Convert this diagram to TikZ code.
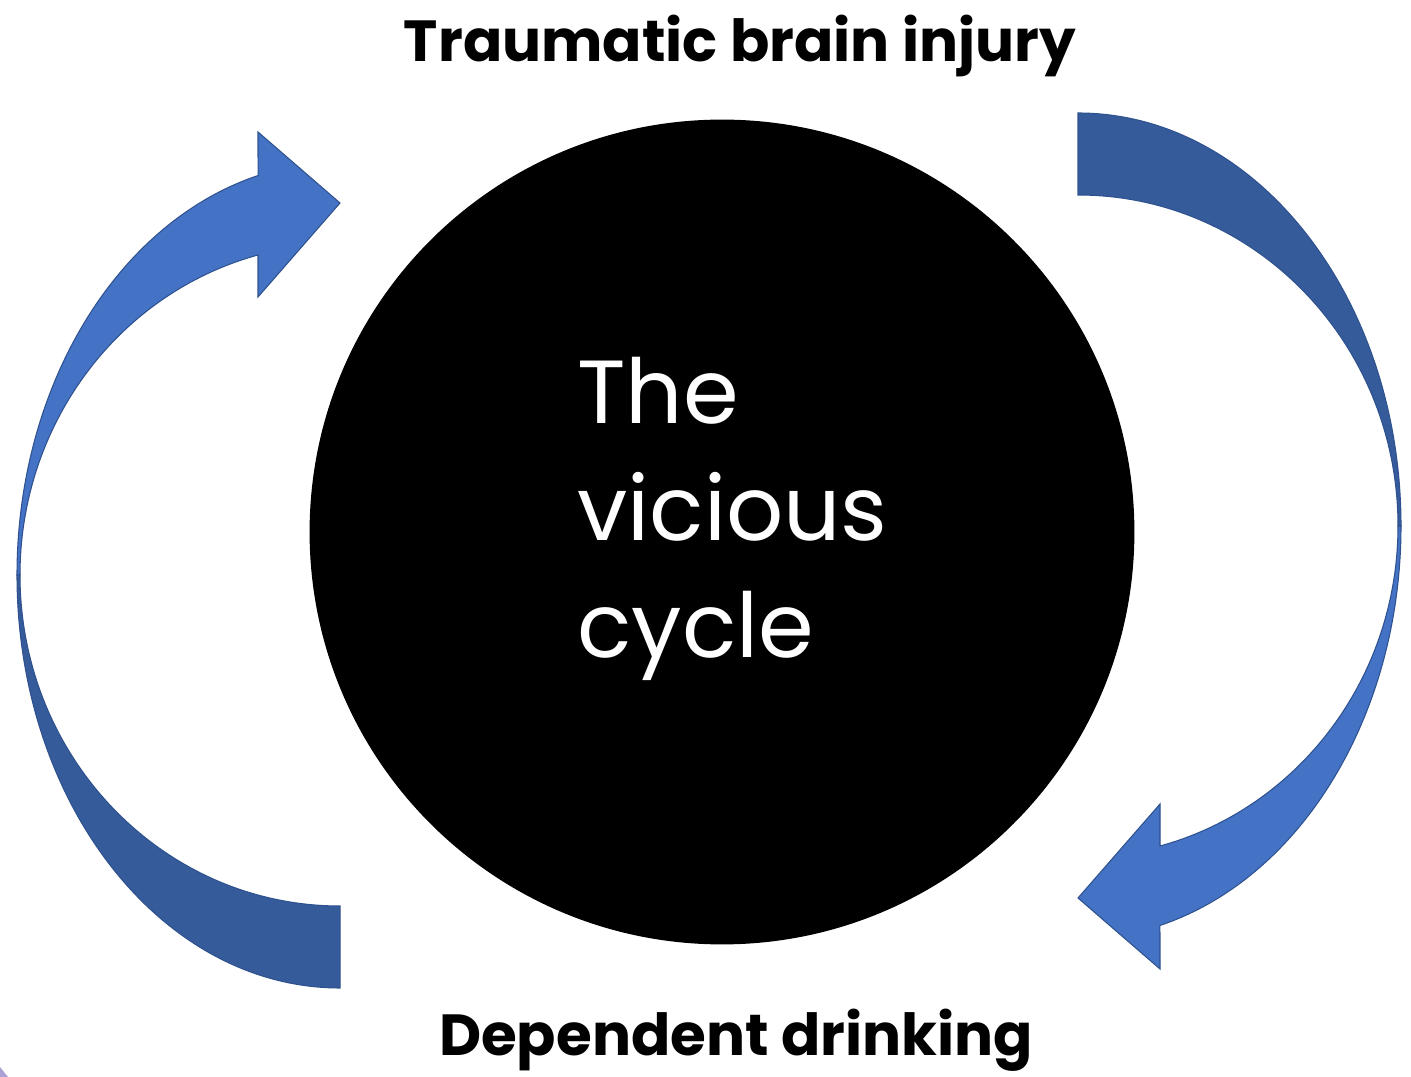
\documentclass[tikz,border=0pt]{standalone}
\usepackage{fontspec}
\setmainfont{Poppins}
\usetikzlibrary{positioning}
\definecolor{frontblue}{RGB}{68,114,196}
\definecolor{backblue}{RGB}{53,91,154}
\definecolor{edgeblue}{RGB}{47,82,143}
\definecolor{cornerlilac}{RGB}{172,160,212}
\tikzstyle{front}=[fill=frontblue,draw=edgeblue,line width=0.6pt]
\tikzstyle{back}=[fill=backblue,draw=edgeblue,line width=0.6pt]
\tikzstyle{hub}=[circle,fill=black,minimum size=16.5cm,inner sep=0pt]
\tikzstyle{hubtxt}=[align=left,text=white,inner sep=0pt,font=\fontsize{51}{66.6}\selectfont]
\tikzstyle{headline}=[inner sep=0pt,font=\bfseries\fontsize{33}{40}\selectfont]

\begin{document}
\begin{tikzpicture}[x=0.02cm,y=-0.02cm]
\useasboundingbox (0,0) rectangle (1411,1077);
% curved arrows, the right one is the left one turned round
\foreach \turn in {0,180} {
\begin{scope}[rotate around={\turn:(709,550.5)}]
\path[back] (340,988) arc[start angle=90,end angle=180,x radius=323,y radius=413]
  -- (20,575) arc[start angle=180,end angle=90,x radius=320,y radius=331] -- cycle;
\path[front] (17,575) arc[start angle=180,end angle=255.3,x radius=323,y radius=413]
  -- (258,132) -- (340,203) -- (258,297)
  -- (258,255) arc[start angle=255.15,end angle=180,x radius=320,y radius=331] -- cycle;
\end{scope}
}
\node[hub] (hub) at (722,532) {};
\node[hubtxt,anchor=north west] (hubtxt) at (577,357) {The\\vicious\\cycle};
\node[headline,anchor=base] (tbi) at (740,62) {Traumatic brain injury};
\node[headline,anchor=base] (dd) at (736,1055) {Dependent drinking};
\fill[cornerlilac] (0,1067) -- (8,1077) -- (0,1077) -- cycle;
\end{tikzpicture}
\end{document}
